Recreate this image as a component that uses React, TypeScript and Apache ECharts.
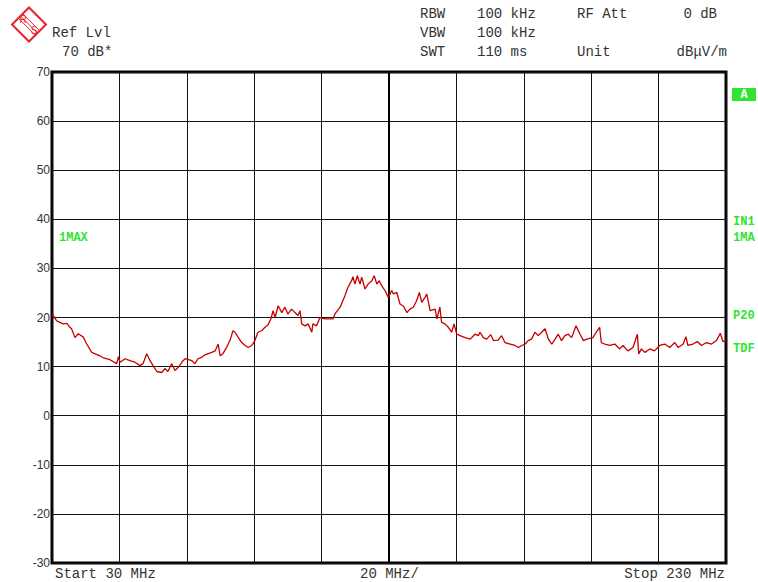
import React, { useEffect, useRef } from "react";
import * as echarts from "echarts";

// Max-hold trace of the receiver sweep, 30 MHz .. 230 MHz
const freqMHz = [
  30.0, 30.2, 31.4, 33.3, 34.4, 35.3, 35.8, 36.8, 37.8, 39.3, 40.3, 41.8, 42.8, 44.2, 45.2, 47.2,
  49.2, 49.7, 50.2, 51.7, 53.1, 54.6, 56.1, 57.0, 58.1, 59.1, 60.0, 61.1, 62.6, 63.5, 64.4, 65.5,
  66.5, 67.4, 68.9, 69.5, 71.5, 72.4, 73.3, 74.4, 75.4, 77.4, 78.4, 79.3, 79.9, 80.7, 81.8, 82.8,
  83.7, 84.3, 85.2, 86.3, 87.3, 88.2, 89.3, 90.2, 91.1, 92.2, 93.2, 94.1, 95.0, 95.6, 96.2, 97.1,
  98.2, 99.1, 100.0, 101.1, 102.1, 103.0, 103.6, 104.1, 105.1, 106.0, 107.1, 107.4, 108.5, 109.5,
  110.4, 111.5, 113.4, 114.0, 115.5, 116.9, 117.8, 118.9, 119.3, 119.9, 120.6, 121.4, 121.9, 122.9,
  123.8, 124.9, 125.6, 126.4, 127.1, 127.8, 128.8, 129.8, 130.3, 130.8, 131.3, 132.3, 133.3, 134.2,
  135.3, 136.2, 137.2, 138.2, 139.0, 139.7, 140.7, 141.2, 142.2, 143.7, 144.2, 145.1, 145.6, 146.6,
  147.6, 148.6, 149.3, 150.1, 151.1, 152.6, 154.1, 155.5, 156.5, 157.0, 158.0, 159.0, 160.2, 161.0,
  162.4, 163.4, 164.4, 165.9, 167.4, 168.4, 169.4, 170.4, 171.3, 172.3, 173.3, 174.3, 175.3, 176.3,
  177.3, 178.3, 179.3, 180.2, 181.2, 182.2, 183.2, 184.2, 185.5, 186.7, 187.7, 188.7, 190.5, 191.5,
  192.5, 193.0, 194.0, 195.5, 197.0, 198.5, 199.4, 200.9, 202.4, 203.7, 204.1, 204.9, 205.9, 207.4,
  208.8, 210.3, 211.8, 213.3, 214.8, 215.8, 217.3, 218.1, 218.7, 220.2, 221.5, 222.7, 224.2, 225.7,
  227.2, 228.3, 229.1, 230.0,
];

const levelDb = [
  20.2, 20.6, 19.3, 18.7, 18.8, 18.0, 17.7, 15.9, 16.7, 16.0, 14.6, 12.9, 12.6, 12.2, 11.8, 11.4,
  10.6, 12.0, 10.9, 11.6, 11.2, 10.9, 10.2, 10.6, 12.6, 11.2, 10.2, 9.0, 8.8, 9.6, 9.0, 10.6,
  9.2, 9.8, 11.2, 11.6, 11.2, 10.6, 11.6, 11.9, 12.4, 12.9, 13.2, 14.6, 12.2, 12.6, 13.9, 15.3,
  17.3, 17.0, 16.0, 14.9, 14.3, 13.9, 14.3, 15.3, 17.0, 17.3, 18.0, 18.5, 19.8, 21.4, 20.0, 22.4,
  21.0, 22.1, 20.7, 21.7, 21.0, 20.4, 21.4, 18.7, 18.3, 18.7, 17.0, 18.7, 18.3, 20.0,
  19.8, 19.7, 19.7, 20.8, 22.1, 24.4, 26.1, 27.5, 28.3, 26.8, 28.5, 26.8, 28.2, 25.8,
  26.8, 27.5, 28.5, 26.8, 27.5, 26.5, 25.5, 24.1, 24.8, 25.5, 24.8, 25.1, 22.7, 22.4,
  21.0, 21.7, 22.1, 23.4, 25.1, 23.1, 24.1, 24.8, 21.4, 21.7, 19.7, 22.1, 19.0, 18.7,
  18.0, 17.0, 18.7, 16.6, 16.3, 15.9, 15.6, 16.6, 16.3, 17.0, 15.9, 15.6, 16.5, 15.3,
  15.4, 16.3, 14.9, 14.6, 14.3, 13.9, 14.3, 14.6, 15.3, 15.6, 17.0, 16.3, 17.0, 17.7,
  15.6, 14.6, 15.6, 16.6, 15.3, 16.3, 16.6, 15.9, 18.3, 16.6, 15.3, 15.6, 15.9, 17.0,
  18.0, 14.9, 14.6, 14.3, 14.6, 13.6, 14.3, 13.2, 13.9, 16.6, 12.6, 13.6, 12.9, 13.6,
  13.2, 14.3, 14.6, 13.9, 14.9, 13.9, 14.6, 16.1, 14.3, 14.6, 15.1, 14.3, 14.9, 14.6,
  15.3, 16.8, 15.1, 15.3,
];

const refLevelTitle = "Ref Lvl";
const refLevelValue = "70 dB*";
const settingNames = ["RBW", "VBW", "SWT"];
const settingValues = ["100 kHz", "100 kHz", "110 ms"];
const attLabel = "RF Att";
const attValue = "0 dB";
const unitLabel = "Unit";
const unitValue = "dBμV/m";
const startLabel = "Start 30 MHz";
const spanLabel = "20 MHz/";
const stopLabel = "Stop 230 MHz";
const traceTag = "1MAX";
const sideTags = [
  { text: "IN1", y: 222 },
  { text: "1MA", y: 238 },
  { text: "P20", y: 316 },
  { text: "TDF", y: 349 },
];

const MONO = "'Liberation Mono', 'DejaVu Sans Mono', monospace";
const GREEN = "#2fe52f";
const LOGO_RED = "#e8202a";

function monoText(text: string, x: number, y: number, align: string = "left") {
  return {
    type: "text",
    x,
    y,
    silent: true,
    style: {
      text,
      fill: "#333",
      font: `14px ${MONO}`,
      textAlign: align,
      textVerticalAlign: "middle",
    },
  };
}

function greenTag(text: string, x: number, y: number) {
  return {
    type: "text",
    x,
    y,
    silent: true,
    style: {
      text,
      fill: GREEN,
      font: `bold 12px ${MONO}`,
      textAlign: "left",
      textVerticalAlign: "middle",
    },
  };
}

// Rohde & Schwarz style diamond badge
function logo() {
  const cx = 29;
  const cy = 24.5;
  const h = 17;
  const stripes = [-2.2, 0, 2.2].map((o) => ({
    type: "line",
    silent: true,
    shape: {
      x1: cx - h / 2 + o,
      y1: cy - h / 2 - o,
      x2: cx + h / 2 + o,
      y2: cy + h / 2 - o,
    },
    style: { stroke: LOGO_RED, lineWidth: 1 },
  }));
  return {
    type: "group",
    children: [
      {
        type: "polygon",
        silent: true,
        shape: {
          points: [
            [cx, cy - h],
            [cx + h, cy],
            [cx, cy + h],
            [cx - h, cy],
          ],
        },
        style: { fill: "#fff", stroke: LOGO_RED, lineWidth: 2 },
      },
      ...stripes,
      {
        type: "text",
        x: cx - 6,
        y: cy - 5,
        silent: true,
        style: { text: "R", fill: LOGO_RED, font: "10px 'Liberation Sans', sans-serif", textAlign: "center", textVerticalAlign: "middle" },
      },
      {
        type: "text",
        x: cx + 5,
        y: cy + 6,
        silent: true,
        style: { text: "S", fill: LOGO_RED, font: "10px 'Liberation Sans', sans-serif", textAlign: "center", textVerticalAlign: "middle" },
      },
    ],
  };
}

export default function App() {
  const ref = useRef<HTMLDivElement>(null);

  useEffect(() => {
    if (!ref.current) return;
    const chart = echarts.init(ref.current, null, { renderer: "svg" });
    const trace = freqMHz.map((f, i) => [f, levelDb[i]]);

    const rowY = [14, 33, 52];
    const graphic: any[] = [
      logo(),
      monoText(refLevelTitle, 52, 33),
      monoText(refLevelValue, 62, 52),
      ...settingNames.map((t, i) => monoText(t, 420, rowY[i])),
      ...settingValues.map((t, i) => monoText(t, 477, rowY[i])),
      monoText(attLabel, 577, rowY[0]),
      monoText(attValue, 717, rowY[0], "right"),
      monoText(unitLabel, 577, rowY[2]),
      monoText(unitValue, 727, rowY[2], "right"),
      monoText(startLabel, 55, 574),
      monoText(spanLabel, 360, 574),
      monoText(stopLabel, 725, 574, "right"),
      greenTag(traceTag, 59, 238),
      ...sideTags.map((s) => greenTag(s.text, 733, s.y)),
      {
        type: "rect",
        silent: true,
        shape: { x: 732, y: 88, width: 24, height: 13 },
        style: { fill: GREEN },
      },
      {
        type: "text",
        x: 744,
        y: 95,
        silent: true,
        style: { text: "A", fill: "#fff", font: `bold 12px ${MONO}`, textAlign: "center", textVerticalAlign: "middle" },
      },
    ];

    chart.setOption({
      animation: false,
      backgroundColor: "#fff",
      grid: {
        left: 52,
        right: 32,
        top: 72,
        bottom: 19,
        show: true,
        borderColor: "#000",
        borderWidth: 3,
        backgroundColor: "#fff",
      },
      xAxis: {
        type: "value",
        min: 30,
        max: 230,
        interval: 20,
        axisLine: { show: false },
        axisTick: { show: false },
        axisLabel: { show: false },
        splitLine: { show: true, lineStyle: { color: "#111", width: 1 } },
      },
      yAxis: {
        type: "value",
        min: -30,
        max: 70,
        interval: 10,
        axisLine: { show: false },
        axisTick: { show: false },
        axisLabel: {
          show: true,
          margin: 2,
          color: "#333",
          fontSize: 12,
          fontFamily: "'Liberation Sans', Arial, sans-serif",
        },
        splitLine: { show: true, lineStyle: { color: "#111", width: 1 } },
      },
      series: [
        {
          type: "line",
          data: trace,
          showSymbol: false,
          symbol: "none",
          lineStyle: { color: "#c40000", width: 1.3 },
          z: 3,
          markLine: {
            silent: true,
            symbol: "none",
            label: { show: false },
            lineStyle: { color: "#000", width: 2, type: "solid" },
            data: [{ xAxis: 130 }],
            z: 2,
          },
        },
      ],
      graphic,
    });

    return () => chart.dispose();
  }, []);

  return (
    <div
      ref={ref}
      style={{ position: "fixed", left: 0, top: 0, width: 758, height: 582, background: "#fff" }}
    />
  );
}
